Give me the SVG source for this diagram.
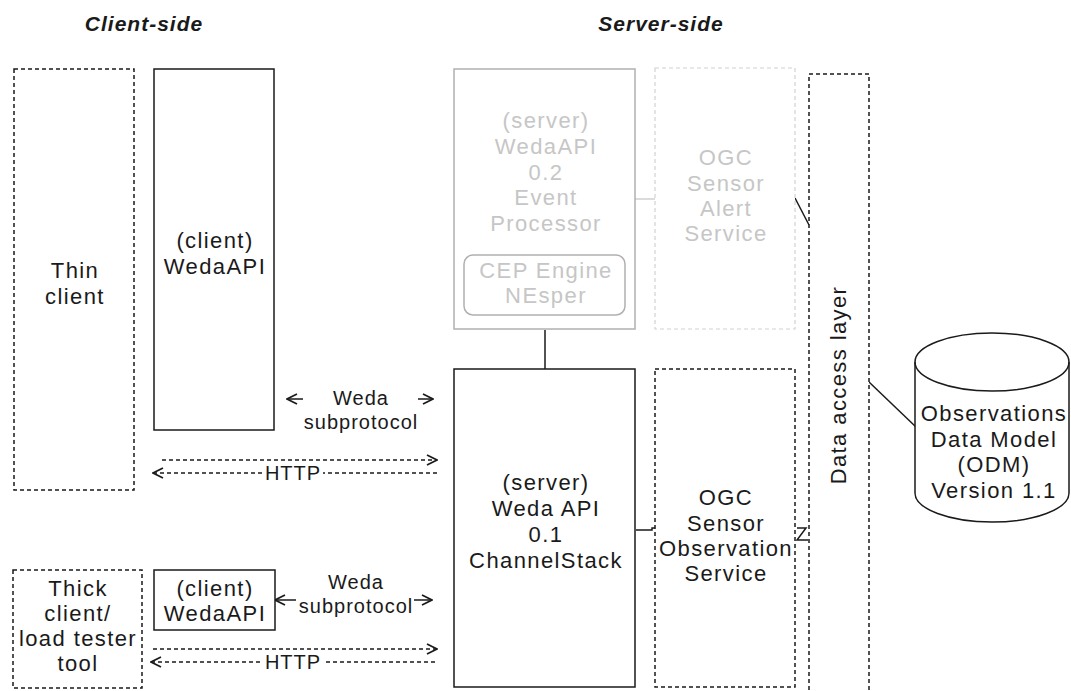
<svg xmlns="http://www.w3.org/2000/svg" width="1071" height="691" viewBox="0 0 1071 691">
  <defs>
    <style>
      text { font-family: "Liberation Sans", Arial, sans-serif; text-anchor: middle; }
      .lbl { font-size: 22px; fill: #1a1a1a; letter-spacing: 1.4px; }
      .dim { font-size: 22px; fill: #c6c6c6; letter-spacing: 1.4px; }
      .elbl { font-size: 20px; fill: #1a1a1a; letter-spacing: 1px; }
      .hdr { font-size: 21px; font-weight: bold; font-style: italic; fill: #1a1a1a; letter-spacing: 1px; }
      .solid { fill: #fff; stroke: #1a1a1a; stroke-width: 1.5; }
      .dash { fill: #fff; stroke: #1a1a1a; stroke-width: 1.5; stroke-dasharray: 4 3; }
      .gsolid { fill: #fff; stroke: #b0b0b0; stroke-width: 1.5; }
      .gdash { fill: #fff; stroke: #d2d2d2; stroke-width: 1.2; stroke-dasharray: 4 3; }
      .edge { fill: none; stroke: #1a1a1a; stroke-width: 1.5; }
      .edash { fill: none; stroke: #1a1a1a; stroke-width: 1.3; stroke-dasharray: 4 3; }
      .gedge { fill: none; stroke: #c4c4c4; stroke-width: 1.2; }
    </style>
    <marker id="open" viewBox="0 0 12 12" refX="11" refY="6" markerWidth="12" markerHeight="12" markerUnits="userSpaceOnUse" orient="auto-start-reverse">
      <path d="M1,1 L11,6 L1,11" fill="none" stroke="#1a1a1a" stroke-width="1.7"/>
    </marker>
  </defs>

  <rect width="1071" height="691" fill="#fff"/>

  <!-- section headings -->
  <text class="hdr" x="144" y="31">Client-side</text>
  <text class="hdr" x="661" y="31">Server-side</text>

  <!-- connectors -->
  <g id="connectors">
    <!-- event processor to channel stack -->
    <line class="edge" x1="545" y1="330" x2="545" y2="370"/>
    <!-- event processor to alert service -->
    <line class="gedge" x1="635" y1="199" x2="655" y2="199"/>
    <!-- alert service to data access layer -->
    <line class="edge" x1="795" y1="198" x2="809" y2="225"/>
    <!-- channel stack to observation service -->
    <polyline class="edge" points="636,530 652,530 652,528 655,528"/>
    <!-- observation service to data access layer -->
    <polyline class="edge" points="797,528 806,528 797,540 808,540"/>
    <!-- data access layer to ODM -->
    <line class="edge" x1="869" y1="382" x2="916" y2="427"/>

    <!-- upper Weda subprotocol -->
    <line class="edge" x1="287" y1="399" x2="433" y2="399" marker-start="url(#open)" marker-end="url(#open)"/>
    <rect x="303" y="384" width="115" height="48" fill="#fff"/>
    <text class="elbl" x="361" y="405">Weda</text>
    <text class="elbl" x="361" y="429">subprotocol</text>

    <!-- upper HTTP pair -->
    <line class="edash" x1="162" y1="460" x2="437" y2="460" marker-end="url(#open)"/>
    <line class="edash" x1="437" y1="473" x2="153" y2="473" marker-end="url(#open)"/>
    <rect x="263" y="462" width="60" height="22" fill="#fff"/>
    <text class="elbl" x="293" y="480">HTTP</text>

    <!-- lower Weda subprotocol -->
    <line class="edge" x1="275" y1="600" x2="432" y2="600" marker-start="url(#open)" marker-end="url(#open)"/>
    <rect x="296" y="578" width="118" height="44" fill="#fff"/>
    <text class="elbl" x="356" y="589">Weda</text>
    <text class="elbl" x="356" y="613">subprotocol</text>

    <!-- lower HTTP pair -->
    <line class="edash" x1="153" y1="649" x2="437" y2="649" marker-end="url(#open)"/>
    <line class="edash" x1="435" y1="662" x2="151" y2="662" marker-end="url(#open)"/>
    <rect x="263" y="652" width="60" height="22" fill="#fff"/>
    <text class="elbl" x="293" y="669">HTTP</text>
  </g>

  <!-- client side -->
  <g id="thin-client">
    <rect class="dash" x="14" y="69" width="120" height="421"/>
    <text class="lbl" x="75" y="278">Thin</text>
    <text class="lbl" x="75" y="304">client</text>
  </g>
  <g id="client-wedaapi">
    <rect class="solid" x="154" y="69" width="120" height="361"/>
    <text class="lbl" x="215" y="248">(client)</text>
    <text class="lbl" x="215" y="274">WedaAPI</text>
  </g>
  <g id="thick-client">
    <rect class="dash" x="13" y="570" width="129" height="118"/>
    <text class="lbl" x="78" y="596">Thick</text>
    <text class="lbl" x="78" y="621">client/</text>
    <text class="lbl" x="78" y="646">load tester</text>
    <text class="lbl" x="78" y="671">tool</text>
  </g>
  <g id="client-wedaapi-small">
    <rect class="solid" x="154" y="570" width="121" height="60"/>
    <text class="lbl" x="215" y="596">(client)</text>
    <text class="lbl" x="215" y="621">WedaAPI</text>
  </g>

  <!-- server side -->
  <g id="event-processor">
    <rect class="gsolid" x="454" y="69" width="181" height="260"/>
    <text class="dim" x="546" y="128">(server)</text>
    <text class="dim" x="546" y="154">WedaAPI</text>
    <text class="dim" x="546" y="180">0.2</text>
    <text class="dim" x="546" y="205">Event</text>
    <text class="dim" x="546" y="231">Processor</text>
    <rect class="gsolid" x="464" y="255" width="161" height="60" rx="9"/>
    <text class="dim" x="546" y="278">CEP Engine</text>
    <text class="dim" x="546" y="303">NEsper</text>
  </g>
  <g id="sensor-alert-service">
    <rect class="gdash" x="655" y="68" width="140" height="261"/>
    <text class="dim" x="726" y="165">OGC</text>
    <text class="dim" x="726" y="191">Sensor</text>
    <text class="dim" x="726" y="216">Alert</text>
    <text class="dim" x="726" y="241">Service</text>
  </g>
  <g id="channel-stack">
    <rect class="solid" x="454" y="369" width="181" height="318"/>
    <text class="lbl" x="546" y="490">(server)</text>
    <text class="lbl" x="546" y="516">Weda API</text>
    <text class="lbl" x="546" y="542">0.1</text>
    <text class="lbl" x="546" y="568">ChannelStack</text>
  </g>
  <g id="sensor-observation-service">
    <rect class="dash" x="655" y="369" width="140" height="318"/>
    <text class="lbl" x="726" y="505">OGC</text>
    <text class="lbl" x="726" y="531">Sensor</text>
    <text class="lbl" x="726" y="556">Observation</text>
    <text class="lbl" x="726" y="581">Service</text>
  </g>
  <g id="data-access-layer">
    <rect class="dash" x="809" y="74" width="60" height="640"/>
    <text class="lbl" transform="translate(846 385) rotate(-90)" x="0" y="0">Data access layer</text>
  </g>
  <g id="odm">
    <path class="solid" d="M915,362 A77,29 0 0 1 1069,362 L1069,493 A77,29 0 0 1 915,493 Z"/>
    <path class="edge" d="M915,362 A77,29 0 0 0 1069,362"/>
    <text class="lbl" x="994" y="421">Observations</text>
    <text class="lbl" x="994" y="447">Data Model</text>
    <text class="lbl" x="994" y="472">(ODM)</text>
    <text class="lbl" x="994" y="498">Version 1.1</text>
  </g>
</svg>
